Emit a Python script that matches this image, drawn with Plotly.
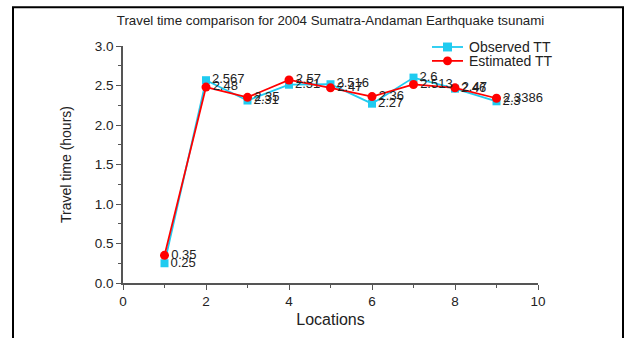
import plotly.graph_objects as go

locations = [1, 2, 3, 4, 5, 6, 7, 8, 9]
observed_tt = [0.25, 2.567, 2.31, 2.51, 2.516, 2.27, 2.6, 2.46, 2.3]
estimated_tt = [0.35, 2.48, 2.35, 2.57, 2.47, 2.36, 2.513, 2.47, 2.3386]
observed_labels = ["0.25", "2.567", "2.31", "2.51", "2.516", "2.27", "2.6", "2.46", "2.3"]
estimated_labels = ["0.35", "2.48", "2.35", "2.57", "2.47", "2.36", "2.513", "2.47", "2.3386"]
series_names = ["Observed TT", "Estimated TT"]

FONT = "Arial, Liberation Sans, sans-serif"
CYAN = "#1FCBF0"
RED = "#FF0000"

# plot area geometry (px)
L, R, T, B = 123, 538, 46, 285
W, H = 625, 338
def px2x(px):
    return (px - L) / (R - L)
def px2y(py):
    return (B - py) / (B - T)

fig = go.Figure()
fig.add_trace(go.Scatter(
    x=locations, y=observed_tt, name=series_names[0],
    mode="lines+markers+text", text=observed_labels, textposition="middle right",
    textfont=dict(size=13, color="#222", family=FONT),
    line=dict(color=CYAN, width=1.8),
    marker=dict(symbol="square", size=8, color=CYAN),
    showlegend=False, cliponaxis=False,
))
fig.add_trace(go.Scatter(
    x=locations, y=estimated_tt, name=series_names[1],
    mode="lines+markers+text", text=estimated_labels, textposition="middle right",
    textfont=dict(size=13, color="#222", family=FONT),
    line=dict(color=RED, width=1.8),
    marker=dict(symbol="circle", size=9, color=RED),
    showlegend=False, cliponaxis=False,
))

axis_common = dict(
    showgrid=False, zeroline=False, showline=True, linecolor="#555", linewidth=1.5,
    ticks="outside", ticklen=5, tickwidth=1, tickcolor="#555",
    tickfont=dict(size=13.5, color="#222", family=FONT),
)

fig.update_layout(
    width=W, height=H,
    margin=dict(l=L, r=W - R, t=T, b=H - B),
    paper_bgcolor="white", plot_bgcolor="white",
    font=dict(family=FONT, color="#222"),
    title=dict(text="Travel time comparison for 2004 Sumatra-Andaman Earthquake tsunami",
               x=0.5, xref="paper", xanchor="center", y=1 - 20 / H, yanchor="middle",
               font=dict(size=13.3, color="#222", family=FONT)),
    xaxis=dict(range=[0, 10], tickmode="linear", tick0=0, dtick=2,
               minor=dict(ticks="outside", dtick=1, ticklen=3, tickcolor="#555"),
               title=dict(text="Locations", font=dict(size=16, family=FONT), standoff=6),
               **axis_common),
    yaxis=dict(range=[0, 3], tickmode="linear", tick0=0, dtick=0.5, tickformat=".1f",
               minor=dict(ticks="outside", dtick=0.25, ticklen=3, tickcolor="#555"),
               title=dict(text="Travel time (hours)", font=dict(size=14, family=FONT), standoff=20),
               **axis_common),
    showlegend=False,
)

# manual legend
leg_rows = [(47, CYAN, "square"), (61, RED, "circle")]
for (py, col, sym), name in zip(leg_rows, series_names):
    fig.add_shape(type="line", xref="paper", yref="paper",
                  x0=px2x(432), x1=px2x(463), y0=px2y(py), y1=px2y(py),
                  line=dict(color=col, width=1.8))
    fig.add_shape(type="rect" if sym == "square" else "circle", xref="paper", yref="paper",
                  x0=px2x(447.5 - 4.5), x1=px2x(447.5 + 4.5),
                  y0=px2y(py + 4.5), y1=px2y(py - 4.5),
                  line=dict(color=col, width=0), fillcolor=col)
    fig.add_annotation(xref="paper", yref="paper", x=px2x(467), y=px2y(py),
                       xanchor="left", yanchor="middle", showarrow=False,
                       text=name, font=dict(size=14, color="#222", family=FONT))

# outer frame
fig.add_shape(type="rect", xref="paper", yref="paper",
              x0=px2x(13), x1=px2x(623), y0=px2y(345), y1=px2y(7),
              line=dict(color="black", width=2), fillcolor="rgba(0,0,0,0)", layer="below")

fig.write_html("out.html")
